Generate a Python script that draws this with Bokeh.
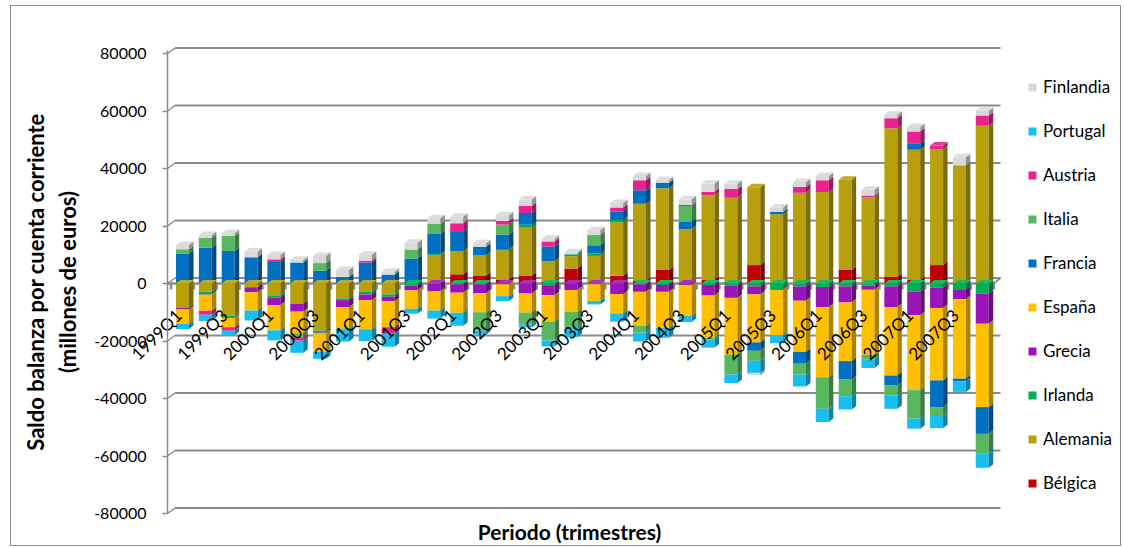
import numpy as np
from bokeh.plotting import figure
from bokeh.models import (ColumnDataSource, FixedTicker, NumeralTickFormatter,
                          Legend, LegendItem, Label)
from bokeh.core.properties import value
from bokeh.embed import file_html
from bokeh.resources import INLINE

# ---------------------------------------------------------------- data
quarters = ["1999Q1", "1999Q2", "1999Q3", "1999Q4", "2000Q1", "2000Q2", "2000Q3", "2000Q4",
            "2001Q1", "2001Q2", "2001Q3", "2001Q4", "2002Q1", "2002Q2", "2002Q3", "2002Q4",
            "2003Q1", "2003Q2", "2003Q3", "2003Q4", "2004Q1", "2004Q2", "2004Q3", "2004Q4",
            "2005Q1", "2005Q2", "2005Q3", "2005Q4", "2006Q1", "2006Q2", "2006Q3", "2006Q4",
            "2007Q1", "2007Q2", "2007Q3", "2007Q4"]
shown_quarters = quarters[::2]

# current account balance, millions of euros
belgica = [0, 0, 0, 0, 0, 0, 0, 0, 0, 0, 0, 0,
           3200, 2800, 1400, 2800, 700, 5200, 0, 2700,
           900, 4700, 200, 1400, 400, 6400, 200, 0,
           0, 4700, 0, 2300, 1200, 6400, 200, 300]
alemania = [-8400, -2900, -11200, -1300, -4100, -7000, -16400, -5200,
            -2900, -3800, 0, 9900, 8100, 7000, 10200, 16600,
            7000, 4300, 9600, 18600, 26800, 28400, 18800, 29300,
            29400, 27100, 23900, 31600, 31800, 31400, 30000, 51700,
            45300, 40400, 40900, 54600]
irlanda = [500, -800, -500, 300, -800, 300, -700, -600,
           -900, -800, -700, 300, -300, -300, 400, 1000,
           -600, 700, 800, 800, -300, -500, 0, -500,
           -800, -1000, -2000, -1000, -1200, -1000, -800, -1000,
           -2800, -1500, -2000, -3500]
grecia = [-600, -200, -300, -1700, -2700, -2800, -300, -2500,
          -2000, -1600, -1700, -2800, -2900, -3100, -300, -3500,
          -3500, -2300, -300, -3700, -2600, -2400, -500, -3700,
          -4200, -2800, -300, -5000, -7000, -5600, -1400, -7200,
          -8200, -7000, -3500, -10500]
espana = [-5100, -5600, -3200, -6400, -8700, -7500, -6400, -7300,
          -10100, -9000, -6400, -6600, -7000, -6600, -4100, -6600,
          -9100, -7600, -5800, -6700, -11800, -12500, -10800, -14600,
          -19700, -16700, -15700, -17800, -24400, -20400, -22600, -23800,
          -26100, -25200, -27600, -29000]
francia = [9900, 12400, 11300, 8800, 7500, 7000, 4500, 2300,
           7300, 3100, 8700, 7000, 6600, 3000, 5000, 4100,
           5200, 0, 2900, 2900, 4700, 1900, 2600, 0,
           0, -2900, 800, -4100, 0, -6400, 0, -3500,
           2300, -9300, -900, -9300]
italia = [1500, 3500, 5300, 0, 0, -1400, 2600, -500,
          0, 0, 3100, 3500, 0, -6400, 3500, -4200,
          -6600, -5200, 3700, 0, -2400, 0, 5400, -700,
          -7000, -3500, 0, -3800, -11000, -5800, -1700, -3500,
          -9900, -3100, 0, -6700]
austria = [0, -1400, -1200, 0, 900, -1200, 0, 0,
           600, -2300, 0, 0, 3100, 0, 1200, 2500,
           1700, 0, 0, 1400, 3500, 0, 300, 1200,
           3100, 0, 0, 2000, 4100, 0, 600, 3500,
           4100, 1200, 0, 3500]
portugal = [-1700, -2100, -1500, -3500, -3500, -4200, -2400, -4100,
            -4100, -4500, -1700, -2800, -4500, -1400, -1700, -1000,
            -2100, -3500, -1200, -2900, -3100, -3500, -2100, -2800,
            -2900, -4200, -2800, -4100, -4600, -4600, -2900, -4600,
            -3500, -4200, -3700, -5100]
finlandia = [1500, 1000, 1000, 2000, 1500, 1000, 2500, 2400,
             2100, 1000, 2400, 2000, 2200, 1200, 2000, 2200,
             1000, 700, 1500, 1600, 1500, 1000, 2000, 2900,
             1800, -800, 1500, 1700, 1500, 0, 2000, 1200,
             1500, 0, 2800, 1700]

series_names = ["Bélgica", "Alemania", "Irlanda", "Grecia", "España",
                "Francia", "Italia", "Austria", "Portugal", "Finlandia"]
series_values = [belgica, alemania, irlanda, grecia, espana,
                 francia, italia, austria, portugal, finlandia]
series_colors = ["#c00000", "#b7a00b", "#00b050", "#9b14b7", "#ffc000",
                 "#0070c0", "#57b85f", "#ea2190", "#17bef0", "#d9d9d9"]
y_ticks = [-80000, -60000, -40000, -20000, 0, 20000, 40000, 60000, 80000]

# ---------------------------------------------------------------- geometry
# the plotting frame covers the whole canvas; page pixels map to data linearly
PX_CAT = 22.85        # pixels per category step
PX_VAL = 0.002875     # pixels per million euros
CAN_X, CAN_Y, CAN_W, CAN_H = 11, 6, 1111, 541
BAR0_PX, ZERO_PY = 182, 283


def dx(px):
    return (px - BAR0_PX) / PX_CAT


def dy(py):
    return (ZERO_PY - py) / PX_VAL


XS, XE = dx(CAN_X), dx(CAN_X + CAN_W)
YS, YE = dy(CAN_Y + CAN_H), dy(CAN_Y)
XA = dx(167)          # value axis / left wall front edge
XF = dx(993)          # right end of the front floor edge
XB = dx(1000)         # right end of the back wall

HW = 6.5 / PX_CAT                      # half width of a bar front face
BDX, BDY = 4.5 / PX_CAT, 3.5 / PX_VAL  # bar depth offset
GDX, GDY = 7.5 / PX_CAT, 5.5 / PX_VAL  # back wall offset

GRID = "#8c8c8c"
FONT = "Lato"


def shade(hexcol, f):
    r, g, b = (int(hexcol[i:i + 2], 16) for i in (1, 3, 5))
    if f < 1:
        r, g, b = (int(c * f) for c in (r, g, b))
    else:
        r, g, b = (int(c + (255 - c) * (f - 1)) for c in (r, g, b))
    return "#%02x%02x%02x" % (r, g, b)


p = figure(width=CAN_W, height=CAN_H, x_range=(XS, XE), y_range=(YS, YE),
           output_backend="svg", toolbar_location=None, x_axis_location=None,
           min_border_left=0, min_border_right=0, min_border_top=0, min_border_bottom=0)
p.margin = (5, 0, 0, 10)
p.styles = {"border": "1px solid #8c8c8c"}
p.outline_line_color = None
p.grid.visible = False
p.background_fill_color = "white"
p.border_fill_color = "white"

# back wall gridlines with the left wall diagonals
for v in y_ticks:
    p.segment(x0=[XA + GDX], y0=[v + GDY], x1=[XB], y1=[v + GDY],
              line_color=GRID, line_width=2)
    p.segment(x0=[XA], y0=[v], x1=[XA + GDX], y1=[v + GDY],
              line_color=GRID, line_width=1.5)

# floor at zero: front edge and category ticks
p.segment(x0=[XA], y0=[0], x1=[XF], y1=[0], line_color=GRID, line_width=2.5)
p.segment(x0=[XF], y0=[0], x1=[XB], y1=[GDY], line_color=GRID, line_width=2)
tick_x = [i + 0.5 for i in range(-1, len(quarters))]
p.segment(x0=tick_x, y0=[0] * len(tick_x), x1=tick_x, y1=[-6 / PX_VAL] * len(tick_x),
          line_color=GRID, line_width=2.5)

# ---------------------------------------------------------------- stacks
n = len(quarters)
xs = np.arange(n, dtype=float)
pos_base = np.zeros(n)
neg_base = np.zeros(n)
segments = []
for name, vals, col in zip(series_names, series_values, series_colors):
    v = np.array(vals, dtype=float)
    bottom = np.where(v >= 0, pos_base, neg_base + v)
    top = np.where(v >= 0, pos_base + v, neg_base)
    segments.append((name, v, col, bottom, top))
    pos_base = pos_base + np.where(v > 0, v, 0)
    neg_base = neg_base + np.where(v < 0, v, 0)

legend_renderers = {}


def draw_part(sign):
    for name, v, col, bottom, top in segments:
        keep = (v > 0) if sign > 0 else (v < 0)
        idx = np.nonzero(keep)[0]
        if len(idx) == 0:
            continue
        src = ColumnDataSource(dict(left=xs[idx] - HW, right=xs[idx] + HW,
                                    bottom=bottom[idx], top=top[idx]))
        r = p.quad(left="left", right="right", bottom="bottom", top="top", source=src,
                   fill_color=col, line_color=None)
        legend_renderers.setdefault(name, r)
        side_x = [[x + HW, x + HW + BDX, x + HW + BDX, x + HW] for x in xs[idx]]
        side_y = [[b, b + BDY, t + BDY, t] for b, t in zip(bottom[idx], top[idx])]
        p.patches(xs=side_x, ys=side_y, fill_color=shade(col, 0.68), line_color=None)


def draw_tops(sign):
    for i in range(n):
        chosen = None
        for name, v, col, bottom, top in segments:
            if sign > 0 and v[i] > 0:
                chosen = (col, top[i])
            if sign < 0 and v[i] < 0 and chosen is None:
                chosen = (col, 0.0)
        if chosen is None:
            continue
        col, t = chosen
        x = xs[i]
        p.patch(x=[x - HW, x - HW + BDX, x + HW + BDX, x + HW],
                y=[t, t + BDY, t + BDY, t],
                fill_color=shade(col, 1.12), line_color=None)


draw_part(+1)
draw_tops(+1)
draw_part(-1)
draw_tops(-1)

# category labels along the zero line
lab_idx = [quarters.index(q) for q in shown_quarters]
p.text(x=[i - 0.17 for i in lab_idx], y=[-10000] * len(lab_idx), text=shown_quarters,
       angle=45, angle_units="deg", text_align="right", text_baseline="middle",
       text_font=value(FONT), text_font_size="17px", text_color="black")

# ---------------------------------------------------------------- axes
yax = p.yaxis[0]
yax.fixed_location = XA
yax.bounds = (-80000, 81000)
yax.ticker = FixedTicker(ticks=y_ticks)
yax.formatter = NumeralTickFormatter(format="0")
yax.major_label_text_font = FONT
yax.major_label_text_font_size = "16px"
yax.major_label_text_color = "black"
yax.axis_line_color = GRID
yax.axis_line_width = 1.5
yax.major_tick_line_color = GRID
yax.major_tick_line_width = 1.5
yax.major_tick_out = 5
yax.major_tick_in = 0
yax.minor_tick_line_color = None
yax.major_label_standoff = 16
yax.axis_label = "Saldo balanza por cuenta corriente\n(millones de euros)"
yax.axis_label_text_font = FONT
yax.axis_label_text_font_size = "22px"
yax.axis_label_text_font_style = "bold"
yax.axis_label_text_color = "black"
yax.axis_label_standoff = 10

p.add_layout(Label(x=dx(569), y=dy(531), text="Periodo (trimestres)",
                   text_align="center", text_baseline="middle", text_font=FONT,
                   text_font_size="21px", text_font_style="bold", text_color="black"))

# ---------------------------------------------------------------- legend
items = [LegendItem(label=name, renderers=[legend_renderers[name]])
         for name in reversed(series_names)]
legend = Legend(items=items, location=(1027 - CAN_X, CAN_Y + CAN_H - 493),
                orientation="vertical",
                label_text_font=FONT, label_text_font_size="17px",
                label_text_color="black", glyph_width=10, glyph_height=10,
                label_height=20, spacing=23, label_standoff=6, padding=0, margin=0,
                border_line_color=None, background_fill_alpha=0)
p.add_layout(legend)

open("out.html", "w").write(file_html(p, INLINE))
